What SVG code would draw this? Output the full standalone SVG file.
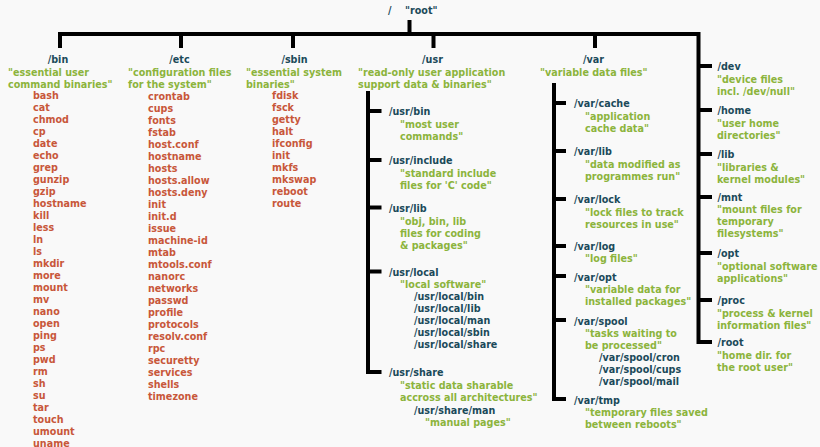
<svg xmlns="http://www.w3.org/2000/svg" width="820" height="447" viewBox="0 0 820 447">
<style>
text{font-family:"DejaVu Sans","Noto Sans",sans-serif;font-weight:bold;font-size:9.6px}
.d{fill:#1b4a5a}
.c{fill:#8cb43c}
.f{fill:#c8573a}
.m{text-anchor:middle}
.ln{fill:none;stroke:#000;stroke-width:4;stroke-linejoin:miter;stroke-linecap:butt}
</style>
<rect width="820" height="447" fill="#f9f9f9"/>
<g id="connectors" class="ln">
<path d="M409.5 20V34"/>
<path d="M60 48V34H698.5V342H712"/>
<path d="M181 34V48M293 34V48M433.5 34V48M595 34V48"/>
<path d="M698.5 66H712M698.5 110H712M698.5 154H712M698.5 197H712M698.5 253H712M698.5 300H712"/>
<path d="M368 91V372H381.5M368 111H381.5M368 160H381.5M368 207.5H381.5M368 271.5H381.5"/>
<path d="M554 83V399H566M554 103H566M554 151H566M554 199H566M554 246H566M554 276H566M554 320H566"/>
</g>
<g id="root">
<text class="d" x="388" y="14">/</text>
<text class="d" x="405" y="14">"root"</text>
</g>
<g id="bin">
<text class="d m" x="58" y="63">/bin</text>
<text class="c" x="8" y="75.5">"essential user</text>
<text class="c" x="8" y="87.5">command binaries"</text>
<g class="f">
<text x="33" y="99">bash</text><text x="33" y="111">cat</text><text x="33" y="123">chmod</text><text x="33" y="135">cp</text><text x="33" y="147">date</text><text x="33" y="159">echo</text><text x="33" y="171">grep</text><text x="33" y="183">gunzip</text><text x="33" y="195">gzip</text><text x="33" y="207">hostname</text><text x="33" y="219">kill</text><text x="33" y="231">less</text><text x="33" y="243">ln</text><text x="33" y="255">ls</text><text x="33" y="267">mkdir</text><text x="33" y="279">more</text><text x="33" y="291">mount</text><text x="33" y="303">mv</text><text x="33" y="315">nano</text><text x="33" y="327">open</text><text x="33" y="339">ping</text><text x="33" y="351">ps</text><text x="33" y="363">pwd</text><text x="33" y="375">rm</text><text x="33" y="387">sh</text><text x="33" y="399">su</text><text x="33" y="411">tar</text><text x="33" y="423">touch</text><text x="33" y="435">umount</text><text x="33" y="447">uname</text>
</g>
</g>
<g id="etc">
<text class="d m" x="179.5" y="63">/etc</text>
<text class="c" x="128" y="75.5">"configuration files</text>
<text class="c" x="128" y="87.5">for the system"</text>
<g class="f">
<text x="148" y="99.5">crontab</text><text x="148" y="111.5">cups</text><text x="148" y="123.5">fonts</text><text x="148" y="135.5">fstab</text><text x="148" y="147.5">host.conf</text><text x="148" y="159.5">hostname</text><text x="148" y="171.5">hosts</text><text x="148" y="183.5">hosts.allow</text><text x="148" y="195.5">hosts.deny</text><text x="148" y="207.5">init</text><text x="148" y="219.5">init.d</text><text x="148" y="231.5">issue</text><text x="148" y="243.5">machine-id</text><text x="148" y="255.5">mtab</text><text x="148" y="267.5">mtools.conf</text><text x="148" y="279.5">nanorc</text><text x="148" y="291.5">networks</text><text x="148" y="303.5">passwd</text><text x="148" y="315.5">profile</text><text x="148" y="327.5">protocols</text><text x="148" y="339.5">resolv.conf</text><text x="148" y="351.5">rpc</text><text x="148" y="363.5">securetty</text><text x="148" y="375.5">services</text><text x="148" y="387.5">shells</text><text x="148" y="399.5">timezone</text>
</g>
</g>
<g id="sbin">
<text class="d m" x="294.5" y="63">/sbin</text>
<text class="c" x="246" y="75.5">"essential system</text>
<text class="c" x="246" y="87.5">binaries"</text>
<g class="f">
<text x="272" y="99">fdisk</text><text x="272" y="111">fsck</text><text x="272" y="123">getty</text><text x="272" y="135">halt</text><text x="272" y="147">ifconfig</text><text x="272" y="159">init</text><text x="272" y="171">mkfs</text><text x="272" y="183">mkswap</text><text x="272" y="195">reboot</text><text x="272" y="207">route</text>
</g>
</g>
<g id="usr">
<text class="d m" x="432.5" y="63">/usr</text>
<text class="c" x="358" y="75.5">"read-only user application</text>
<text class="c" x="358" y="87.5">support data &amp; binaries"</text>
</g>
<g id="usr-bin">
<text class="d" x="389" y="115">/usr/bin</text>
<text class="c" x="400" y="127.5">"most user</text>
<text class="c" x="400" y="139.5">commands"</text>
</g>
<g id="usr-include">
<text class="d" x="389" y="164">/usr/include</text>
<text class="c" x="400" y="177">"standard include</text>
<text class="c" x="400" y="189">files for 'C' code"</text>
</g>
<g id="usr-lib">
<text class="d" x="389" y="211.5">/usr/lib</text>
<text class="c" x="400" y="225">"obj, bin, lib</text>
<text class="c" x="400" y="237">files for coding</text>
<text class="c" x="400" y="249">&amp; packages"</text>
</g>
<g id="usr-local">
<text class="d" x="389" y="276">/usr/local</text>
<text class="c" x="400" y="288">"local software"</text>
<text class="d" x="414" y="300">/usr/local/bin</text>
<text class="d" x="414" y="312">/usr/local/lib</text>
<text class="d" x="414" y="324">/usr/local/man</text>
<text class="d" x="414" y="336">/usr/local/sbin</text>
<text class="d" x="414" y="348">/usr/local/share</text>
</g>
<g id="usr-share">
<text class="d" x="389" y="376">/usr/share</text>
<text class="c" x="400" y="389">"static data sharable</text>
<text class="c" x="400" y="401">accross all architectures"</text>
<text class="d" x="414" y="413.5">/usr/share/man</text>
<text class="c" x="425" y="426">"manual pages"</text>
</g>
<g id="var">
<text class="d m" x="593.5" y="63">/var</text>
<text class="c" x="540" y="75.5">"variable data files"</text>
</g>
<g id="var-cache">
<text class="d" x="574" y="107">/var/cache</text>
<text class="c" x="585" y="119.5">"application</text>
<text class="c" x="585" y="131.5">cache data"</text>
</g>
<g id="var-lib">
<text class="d" x="574" y="155">/var/lib</text>
<text class="c" x="585" y="168">"data modified as</text>
<text class="c" x="585" y="180">programmes run"</text>
</g>
<g id="var-lock">
<text class="d" x="574" y="203">/var/lock</text>
<text class="c" x="585" y="216">"lock files to track</text>
<text class="c" x="585" y="228">resources in use"</text>
</g>
<g id="var-log">
<text class="d" x="574" y="250">/var/log</text>
<text class="c" x="585" y="262">"log files"</text>
</g>
<g id="var-opt">
<text class="d" x="574" y="280.5">/var/opt</text>
<text class="c" x="585" y="293">"variable data for</text>
<text class="c" x="585" y="305">installed packages"</text>
</g>
<g id="var-spool">
<text class="d" x="574" y="324.5">/var/spool</text>
<text class="c" x="585" y="336.5">"tasks waiting to</text>
<text class="c" x="585" y="348.5">be processed"</text>
<text class="d" x="599" y="361">/var/spool/cron</text>
<text class="d" x="599" y="373">/var/spool/cups</text>
<text class="d" x="599" y="385">/var/spool/mail</text>
</g>
<g id="var-tmp">
<text class="d" x="574" y="403.5">/var/tmp</text>
<text class="c" x="585" y="416">"temporary files saved</text>
<text class="c" x="585" y="428">between reboots"</text>
</g>
<g id="dev">
<text class="d" x="717.5" y="70">/dev</text>
<text class="c" x="717" y="82.5">"device files</text>
<text class="c" x="717" y="94.5">incl. /dev/null"</text>
</g>
<g id="home">
<text class="d" x="717.5" y="114">/home</text>
<text class="c" x="717" y="126.5">"user home</text>
<text class="c" x="717" y="138.5">directories"</text>
</g>
<g id="lib">
<text class="d" x="717.5" y="158">/lib</text>
<text class="c" x="717" y="170.5">"libraries &amp;</text>
<text class="c" x="717" y="182.5">kernel modules"</text>
</g>
<g id="mnt">
<text class="d" x="717.5" y="201">/mnt</text>
<text class="c" x="717" y="213">"mount files for</text>
<text class="c" x="717" y="225">temporary</text>
<text class="c" x="717" y="237">filesystems"</text>
</g>
<g id="opt">
<text class="d" x="717.5" y="257">/opt</text>
<text class="c" x="717" y="269.5">"optional software</text>
<text class="c" x="717" y="281.5">applications"</text>
</g>
<g id="proc">
<text class="d" x="717.5" y="304">/proc</text>
<text class="c" x="717" y="316.5">"process &amp; kernel</text>
<text class="c" x="717" y="328.5">information files"</text>
</g>
<g id="root-dir">
<text class="d" x="717.5" y="346">/root</text>
<text class="c" x="717" y="358.5">"home dir. for</text>
<text class="c" x="717" y="370.5">the root user"</text>
</g>
</svg>
